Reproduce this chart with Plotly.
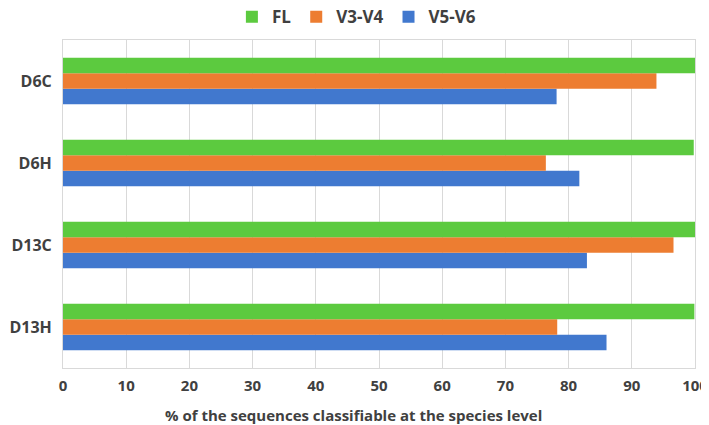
import plotly.graph_objects as go

categories = ["D6C", "D6H", "D13C", "D13H"]
fl = [100.0, 99.8, 100.0, 99.9]
v3v4 = [93.9, 76.4, 96.6, 78.2]
v5v6 = [78.1, 81.7, 82.9, 86.0]
x_ticks = [0, 10, 20, 30, 40, 50, 60, 70, 80, 90, 100]
x_title = "% of the sequences classifiable at the species level"

FONT = "Open Sans"
TXT = "#404040"

fig = go.Figure()
for name, vals, col in [("V5-V6", v5v6, "#4178CE"),
                        ("V3-V4", v3v4, "#ED7D31"),
                        ("FL", fl, "#5CCA3F")]:
    fig.add_trace(go.Bar(y=categories, x=vals, name=name, orientation="h",
                         marker=dict(color=col, line=dict(width=0))))

fig.add_annotation(text=x_title, xref="paper", x=0.4604, xanchor="center",
                   yref="paper", y=-0.143, yanchor="middle", showarrow=False,
                   font=dict(size=15, family=FONT, color=TXT, weight="bold"))

fig.update_layout(
    width=701, height=417,
    barmode="group", bargap=0.43, bargroupgap=0,
    plot_bgcolor="white", paper_bgcolor="white",
    margin=dict(l=55, r=14, t=32, b=57, autoexpand=False),
    font=dict(family=FONT, color=TXT),
    legend=dict(orientation="h", traceorder="reversed",
                x=0.497, xref="container", xanchor="center",
                y=0.978, yref="container", yanchor="middle",
                font=dict(size=17, family=FONT, color=TXT, weight="bold"),
                itemwidth=30, entrywidth=0, tracegroupgap=0),
    xaxis=dict(range=[0, 100], tickvals=x_ticks, showgrid=True, automargin=False,
               gridcolor="#D9D9D9", gridwidth=1, zeroline=False,
               showline=True, linecolor="#D9D9D9", mirror=True,
               tickfont=dict(size=15, family=FONT, color=TXT, weight="bold"),
               ticks="", ticklabelstandoff=4, ticklabeloverflow="allow"),
    yaxis=dict(categoryorder="array", categoryarray=categories[::-1], automargin=False,
               showgrid=False, showline=True, linecolor="#D9D9D9", mirror=True,
               tickfont=dict(size=16, family=FONT, color=TXT, weight="bold"),
               ticks="", ticklabelstandoff=7),
)

fig.write_html("out.html")
